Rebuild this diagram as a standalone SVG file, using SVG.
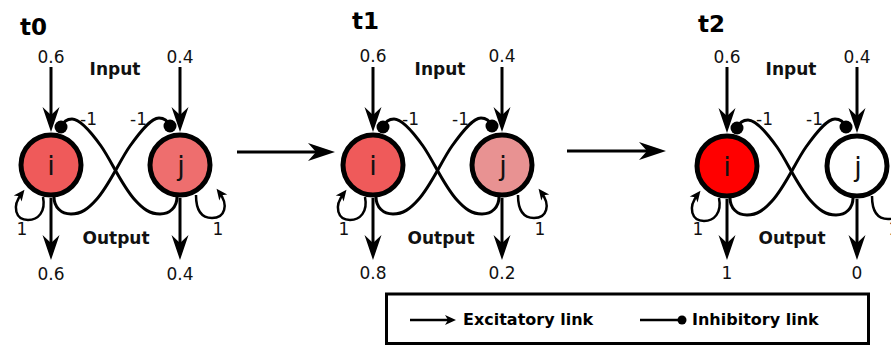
<svg xmlns="http://www.w3.org/2000/svg" width="891" height="345" viewBox="0 0 891 345">
<defs>
<marker id="ah" markerUnits="userSpaceOnUse" markerWidth="30" markerHeight="22" viewBox="-18 -11 30 22" refX="0" refY="0" orient="auto" overflow="visible"><path d="M10,0 L-15,-8.5 L-7,0 L-15,8.5 Z" fill="#000"/></marker>
<marker id="ahb" markerUnits="userSpaceOnUse" markerWidth="34" markerHeight="24" viewBox="-20 -12 34 24" refX="0" refY="0" orient="auto" overflow="visible"><path d="M10,0 L-17,-9 L-9,0 L-17,9 Z" fill="#000"/></marker>
<marker id="ahs" markerUnits="userSpaceOnUse" markerWidth="16" markerHeight="12" viewBox="-8 -6 16 12" refX="0" refY="0" orient="auto" overflow="visible"><path d="M4,0 L-7,-5 L-4,0 L-7,5 Z" fill="#000"/></marker>
</defs>
<style>
.node{stroke:#000;stroke-width:5}
.lbl{font-family:"DejaVu Sans",sans-serif;font-size:27px;text-anchor:middle;fill:#111}
.num{font-family:"DejaVu Sans",sans-serif;font-size:17px;text-anchor:middle;fill:#111}
.w{font-family:"DejaVu Sans",sans-serif;font-size:17px;fill:#111}
.bold{font-family:"DejaVu Sans",sans-serif;font-weight:bold;font-size:17px;text-anchor:middle;fill:#111}
.title{font-family:"DejaVu Sans",sans-serif;font-weight:bold;font-size:23px;fill:#000}
.leg{font-family:"DejaVu Sans",sans-serif;font-weight:bold;font-size:16px;fill:#000}
.ln{stroke:#000;stroke-width:3;fill:none}
.cv{stroke:#000;stroke-width:3;fill:none}
.lp{stroke:#000;stroke-width:2.5;fill:none}
.ex{marker-end:url(#ah)}
</style>
<rect width="891" height="345" fill="#fff"/>

<!-- panel t0 -->
<g id="panel-t0">
<text id="t0" class="title" x="20" y="35">t0</text>
<g id="connectors-t0">
<line class="ln ex" x1="51" y1="67" x2="51" y2="122"/>
<line class="ln ex" x1="180" y1="67" x2="180" y2="122"/>
<line class="ln ex" x1="51" y1="198" x2="51" y2="250"/>
<line class="ln ex" x1="180" y1="198" x2="180" y2="250"/>
<path class="cv" d="M61,127 C64,120 68,119 72,119 C80,119 91,132 101,146 C111,160 122,186 135,200 C143,209 150,214 160,214 C170,214 177,207 177,197"/>
<path class="cv" d="M170,126 C167,119 163,118 159,118 C151,118 140,132 130,146 C120,160 109,186 96,200 C88,209 81,214 71,214 C61,214 54,207 54,197"/>
<circle cx="61" cy="127" r="6.5" fill="#000"/>
<circle cx="170" cy="126" r="6.5" fill="#000"/>
<path class="lp" d="M43,197 C46,212 38,220 28,220 C16,220 11,207 22,193" marker-end="url(#ahs)"/>
<path class="lp" d="M196,195 C196,212 203,218 212,218 C225,218 229,205 219,192" marker-end="url(#ahs)"/>
<text class="num" x="51" y="63">0.6</text>
<text class="num" x="180" y="63">0.4</text>
<text class="num" x="51" y="280">0.6</text>
<text class="num" x="180" y="280">0.4</text>
<text class="w" x="80" y="125">-1</text>
<text class="w" x="130" y="125">-1</text>
<text class="num" x="22" y="235">1</text>
<text class="num" x="218" y="235">1</text>
<text class="bold" x="115" y="75">Input</text>
<text class="bold" x="116" y="244">Output</text>
</g>
<g id="node-i-t0"><circle class="node" cx="51" cy="165" r="30" fill="#EF5A5A"/><text class="lbl" x="51" y="175">i</text></g>
<g id="node-j-t0"><circle class="node" cx="180" cy="165" r="30" fill="#EE6E6E"/><text class="lbl" x="181" y="175">j</text></g>
</g>

<!-- panel t1 -->
<g id="panel-t1" transform="translate(322,0)">
<text id="t1" class="title" x="30" y="29">t1</text>
<g id="connectors-t1">
<line class="ln ex" x1="51" y1="67" x2="51" y2="122"/>
<line class="ln ex" x1="180" y1="67" x2="180" y2="122"/>
<line class="ln ex" x1="51" y1="198" x2="51" y2="250"/>
<line class="ln ex" x1="180" y1="198" x2="180" y2="250"/>
<path class="cv" d="M61,127 C64,120 68,119 72,119 C80,119 91,132 101,146 C111,160 122,186 135,200 C143,209 150,214 160,214 C170,214 177,207 177,197"/>
<path class="cv" d="M170,126 C167,119 163,118 159,118 C151,118 140,132 130,146 C120,160 109,186 96,200 C88,209 81,214 71,214 C61,214 54,207 54,197"/>
<circle cx="61" cy="127" r="6.5" fill="#000"/>
<circle cx="170" cy="126" r="6.5" fill="#000"/>
<path class="lp" d="M43,197 C46,212 38,220 28,220 C16,220 11,207 22,193" marker-end="url(#ahs)"/>
<path class="lp" d="M196,195 C196,212 203,218 212,218 C225,218 229,205 219,192" marker-end="url(#ahs)"/>
<text class="num" x="51" y="62">0.6</text>
<text class="num" x="180" y="62">0.4</text>
<text class="num" x="51" y="279">0.8</text>
<text class="num" x="180" y="279">0.2</text>
<text class="w" x="80" y="125">-1</text>
<text class="w" x="130" y="125">-1</text>
<text class="num" x="22" y="235">1</text>
<text class="num" x="218" y="235">1</text>
<text class="bold" x="118" y="75">Input</text>
<text class="bold" x="119" y="244">Output</text>
</g>
<g id="node-i-t1"><circle class="node" cx="51" cy="165" r="30" fill="#EF5A5A"/><text class="lbl" x="51" y="175">i</text></g>
<g id="node-j-t1"><circle class="node" cx="180" cy="165" r="30" fill="#E89292"/><text class="lbl" x="181" y="175">j</text></g>
</g>

<!-- panel t2 -->
<g id="panel-t2" transform="translate(676,1)">
<text id="t2" class="title" x="22" y="31">t2</text>
<g id="connectors-t2">
<line class="ln ex" x1="51" y1="66" x2="51" y2="122"/>
<line class="ln ex" x1="181" y1="66" x2="181" y2="122"/>
<line class="ln ex" x1="51" y1="198" x2="51" y2="249"/>
<line class="ln ex" x1="181" y1="198" x2="181" y2="249"/>
<path class="cv" d="M61,127 C64,120 68,119 72,119 C80,119 91,132 101,146 C111,160 122,186 135,200 C143,209 150,214 160,214 C170,214 177,207 177,197"/>
<path class="cv" d="M170,126 C167,119 163,118 159,118 C151,118 140,132 130,146 C120,160 109,186 96,200 C88,209 81,214 71,214 C61,214 54,207 54,197"/>
<circle cx="61" cy="127" r="6.5" fill="#000"/>
<circle cx="170" cy="126" r="6.5" fill="#000"/>
<path class="lp" d="M43,197 C46,212 38,220 28,220 C16,220 11,207 22,193" marker-end="url(#ahs)"/>
<path class="lp" d="M196,195 C196,212 203,218 212,218 C225,218 229,205 219,192" marker-end="url(#ahs)"/>
<text class="num" x="51" y="62">0.6</text>
<text class="num" x="181" y="62">0.4</text>
<text class="num" x="51" y="278">1</text>
<text class="num" x="181" y="278">0</text>
<text class="w" x="80" y="124">-1</text>
<text class="w" x="130" y="124">-1</text>
<text class="num" x="22" y="234">1</text>
<text class="num" x="218" y="234">1</text>
<text class="bold" x="115" y="74">Input</text>
<text class="bold" x="116" y="243">Output</text>
</g>
<g id="node-i-t2"><circle class="node" cx="51" cy="165" r="30" fill="#FF0000"/><text class="lbl" x="51" y="175">i</text></g>
<g id="node-j-t2"><circle class="node" cx="181" cy="165" r="30" fill="#FFFFFF"/><text class="lbl" x="182" y="175">j</text></g>
</g>

<!-- transitions -->
<g id="connectors-time">
<line class="ln" x1="237" y1="152" x2="325" y2="152" marker-end="url(#ahb)"/>
<line class="ln" x1="567" y1="151" x2="656" y2="151" marker-end="url(#ahb)"/>
</g>

<!-- legend -->
<g id="legend">
<rect x="386.5" y="294" width="482" height="49.5" fill="#fff" stroke="#000" stroke-width="3"/>
<line x1="410" y1="320" x2="452" y2="320" stroke="#000" stroke-width="2.5" marker-end="url(#ahs)"/>
<text class="leg" x="463" y="325">Excitatory link</text>
<line x1="640" y1="320" x2="682" y2="320" stroke="#000" stroke-width="2.5"/>
<circle cx="682" cy="320" r="4.5" fill="#000"/>
<text class="leg" x="692" y="325">Inhibitory link</text>
</g>
</svg>
